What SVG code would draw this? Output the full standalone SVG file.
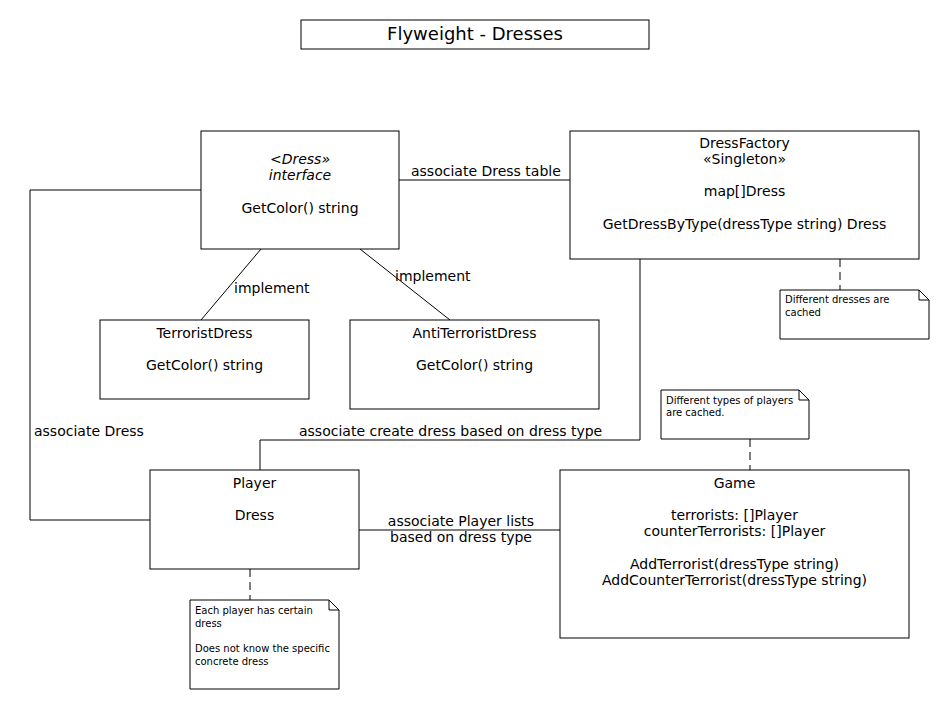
<svg xmlns="http://www.w3.org/2000/svg" width="950" height="710" viewBox="0 0 950 710">
<style>
.box{fill:#fff;stroke:#000;stroke-width:1}
.ln{fill:none;stroke:#000;stroke-width:1}
.dash{fill:none;stroke:#000;stroke-width:1;stroke-dasharray:8,5}
text{font-family:"DejaVu Sans",sans-serif;font-size:14px;fill:#000}
.c{text-anchor:middle}
.i{font-style:italic}
.n{font-size:10px}
.t{font-size:18px}
</style>
<rect width="950" height="710" fill="#fff"/>
<g id="title"><rect class="box" x="301" y="20" width="348" height="29"/><text class="c t" x="475" y="40">Flyweight - Dresses</text></g>
<g id="connectors">
<line class="ln" x1="399" y1="180" x2="570" y2="180"/>
<text x="411" y="176">associate Dress table</text>
<line class="ln" x1="261" y1="249" x2="201" y2="320"/>
<text x="234" y="293">implement</text>
<line class="ln" x1="360" y1="249" x2="450" y2="320"/>
<text x="395" y="281">implement</text>
<polyline class="ln" points="150,520 30,520 30,190 201,190"/>
<text x="34" y="436">associate Dress</text>
<polyline class="ln" points="260,470 260,440 640,440 640,259"/>
<text x="299" y="436">associate create dress based on dress type</text>
<line class="ln" x1="359" y1="530" x2="560" y2="530"/>
<text class="c" x="461" y="526">associate Player lists</text>
<text class="c" x="461" y="542">based on dress type</text>
<line class="dash" x1="840" y1="259" x2="840" y2="290"/>
<line class="dash" x1="750" y1="439" x2="750" y2="470"/>
<line class="dash" x1="250" y1="569" x2="250" y2="600"/>
</g>
<g id="dress"><rect class="box" x="201" y="131" width="198" height="118"/>
<text class="c i" x="300" y="164">&lt;Dress»</text>
<text class="c i" x="300" y="180">interface</text>
<text class="c" x="300" y="213">GetColor() string</text></g>
<g id="factory"><rect class="box" x="570" y="131" width="349" height="128"/>
<text class="c" x="744.5" y="148">DressFactory</text>
<text class="c" x="744.5" y="164">«Singleton»</text>
<text class="c" x="744.5" y="196">map[]Dress</text>
<text class="c" x="744.5" y="229">GetDressByType(dressType string) Dress</text></g>
<g id="terrorist"><rect class="box" x="100" y="320" width="209" height="79"/>
<text class="c" x="204.5" y="338">TerroristDress</text>
<text class="c" x="204.5" y="370">GetColor() string</text></g>
<g id="anti"><rect class="box" x="350" y="320" width="249" height="89"/>
<text class="c" x="474.5" y="338">AntiTerroristDress</text>
<text class="c" x="474.5" y="370">GetColor() string</text></g>
<g id="player"><rect class="box" x="150" y="470" width="209" height="99"/>
<text class="c" x="254.5" y="488">Player</text>
<text class="c" x="254.5" y="520">Dress</text></g>
<g id="game"><rect class="box" x="560" y="470" width="349" height="168"/>
<text class="c" x="734.5" y="488">Game</text>
<text class="c" x="734.5" y="520">terrorists: []Player</text>
<text class="c" x="734.5" y="536">counterTerrorists: []Player</text>
<text class="c" x="734.5" y="569">AddTerrorist(dressType string)</text>
<text class="c" x="734.5" y="585">AddCounterTerrorist(dressType string)</text></g>
<g id="note1"><path class="box" d="M780,290 H919 L929,300 V339 H780 Z M919,290 V300 H929"/>
<text class="n" x="785" y="303">Different dresses are</text>
<text class="n" x="785" y="316">cached</text></g>
<g id="note2"><path class="box" d="M661,390 H799 L809,400 V439 H661 Z M799,390 V400 H809"/>
<text class="n" x="666" y="404">Different types of players</text>
<text class="n" x="666" y="416">are cached.</text></g>
<g id="note3"><path class="box" d="M190,600 H329 L339,610 V689 H190 Z M329,600 V610 H339"/>
<text class="n" x="195" y="614">Each player has certain</text>
<text class="n" x="195" y="627">dress</text>
<text class="n" x="195" y="652">Does not know the specific</text>
<text class="n" x="195" y="665">concrete dress</text></g>
</svg>
